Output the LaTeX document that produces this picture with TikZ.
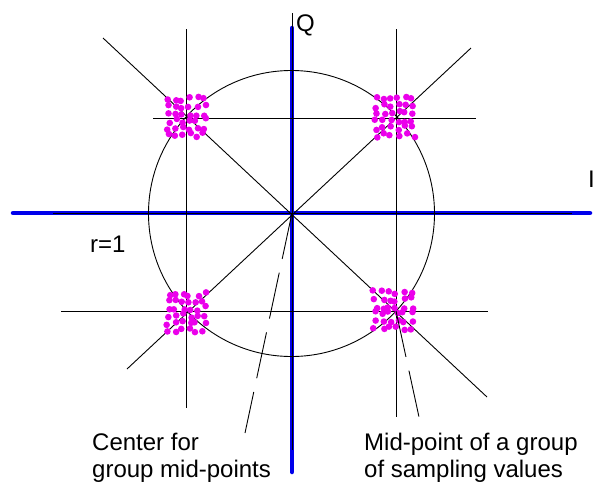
\documentclass[tikz,border=0pt]{standalone}
\usepackage{fontspec}
\setmainfont{Liberation Sans}
\usetikzlibrary{calc}
\definecolor{dotmag}{RGB}{235,0,235}
\definecolor{axisblue}{RGB}{0,0,235}
\tikzset{
  thin line/.style={draw=black, line width=0.9pt},
  axis/.style={draw=axisblue, line width=4.5pt, line cap=round},
  dashline/.style={draw=black, line width=0.9pt, dash pattern=on 47pt off 14pt},
  lbl/.style={inner sep=0pt, font=\fontsize{24}{27}\selectfont},
  dotc/.style={fill=dotmag}
}
\newcommand{\mydotcluster}[2]{%
  \foreach \i in {0,...,5}{%
    \foreach \j in {0,...,5}{%
      \pgfmathsetmacro\ddx{(\i-2.5)*7.2+rand*2.4}%
      \pgfmathsetmacro\ddy{(\j-2.5)*7.2+rand*2.4}%
      \fill[dotc] ({#1+\ddx},{#2+\ddy}) circle[radius=3.3pt];
    }%
  }%
}
\begin{document}
\begin{tikzpicture}[x=1pt,y=-1pt]
\pgfmathsetseed{7}
\fill[white] (0,0) rectangle (595,491);
\useasboundingbox (0,0) rectangle (595,491);

% named coordinates
\coordinate (C) at (292,213);
\coordinate (BR) at (396,311);

% blue axes
\draw[axis] (13,213) -- (590,213);
\draw[axis] (292,28) -- (292,472);
% thin lines inside axes
\draw[thin line] (53,213) -- (572,213);
\draw[thin line] (292,13) -- (292,450);

% circle
\draw[thin line] (291.5,213.5) circle[radius=143pt];

% diagonals
\coordinate (D1a) at (103,38);
\coordinate (D1b) at (487,397);
\coordinate (D2a) at (471,48);
\coordinate (D2b) at (127,369);
\draw[thin line] (D1a) -- (D1b);
\draw[thin line] (D2a) -- (D2b);

% grid lines through cluster centres
\draw[thin line] (186,29) -- (186,408);
\draw[thin line] (396,29) -- (396,417);
\draw[thin line] (153,118) -- (476,118);
\draw[thin line] (61,311) -- (488,311);

% dot clusters
\mydotcluster{186}{117}
\mydotcluster{395}{117}
\mydotcluster{186}{312}
\mydotcluster{393}{310}

% dashed leader lines
\coordinate (L1) at (245,433);
\coordinate (L2) at (419,417);
\draw[dashline] (C) -- (L1);
\draw[dashline] (BR) -- (L2);

% labels
\node[lbl, anchor=base west] (q) at (296,31) {Q};
\node[lbl, anchor=base east] (i) at (595,187) {I};
\node[lbl, anchor=base west] (r) at (90,252) {r=1};
\node[lbl, anchor=base west] (c1) at (92,450) {Center for};
\node[lbl, anchor=base west] (c2) at (92,477) {group mid-points};
\node[lbl, anchor=base west] (m1) at (364,450) {Mid-point of a group};
\node[lbl, anchor=base west] (m2) at (364,477) {of sampling values};
\end{tikzpicture}
\end{document}
